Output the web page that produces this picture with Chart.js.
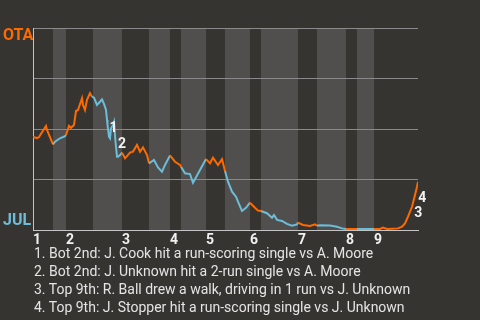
<!DOCTYPE html>
<html>
<head>
<meta charset="utf-8">
<script src="https://cdn.jsdelivr.net/npm/chart.js@4/dist/chart.umd.min.js"></script>
<style>
  html, body { margin: 0; padding: 0; background: #363431; }
  #wrap { position: relative; width: 480px; height: 320px; overflow: hidden; }
  #notes {
    position: absolute; left: 34px; top: 244px;
    font: 14px Roboto, sans-serif; line-height: 18px; color: #e4e4e4;
    white-space: nowrap;
  }
</style>
</head>
<body>
<div id="wrap">
  <canvas id="wp" width="480" height="320"></canvas>
  <div id="notes">
    <div>1. Bot 2nd: J. Cook hit a run-scoring single vs A. Moore</div>
    <div>2. Bot 2nd: J. Unknown hit a 2-run single vs A. Moore</div>
    <div>3. Top 9th: R. Ball drew a walk, driving in 1 run vs J. Unknown</div>
    <div>4. Top 9th: J. Stopper hit a run-scoring single vs J. Unknown</div>
  </div>
</div>
<script>
// game progress (event index) and OTA win chance
const eventX = [0, 4, 6, 13, 14, 20,
  22, 27, 32,
  33, 36, 38, 41, 43, 45, 49, 50, 52, 54, 57, 59,
  61, 64, 67, 69, 71, 73, 74, 74.5, 76, 77, 78, 80, 81, 82.5, 84, 85, 87,
  89, 92, 94, 97, 100, 104, 107, 110, 114, 116,
  121, 125, 129, 132, 137,
  142, 147, 148,
  152, 157, 160, 167, 173,
  177, 180, 185, 189, 192,
  195, 199, 203, 205, 209, 213, 217,
  222, 225, 228,
  234, 239, 241, 244, 249, 254, 259, 264, 265,
  270, 277, 282, 284,
  287, 297, 304, 309, 313,
  324, 341,
  347, 350, 354, 365, 369, 372, 375, 379, 382, 384, 385];
const winOTA = [46.0, 45.5, 46.0, 51.5, 49.5, 42.4,
  43.7, 45.4, 46.5,
  47.0, 51.6, 50.6, 52.0, 58.9, 59.4, 65.2, 61.9, 59.4, 64.4, 67.7, 66.0,
  65.5, 61.9, 63.5, 64.7, 62.4, 59.4, 54.5, 52.0, 46.2, 45.4, 50.3, 52.0, 53.5, 43.7, 36.3, 36.3, 37.1,
  38.3, 35.5, 36.6, 38.3, 38.8, 42.1, 38.8, 40.9, 37.1, 33.0,
  34.7, 31.0, 28.9, 32.2, 36.9,
  33.8, 32.2, 31.3,
  28.1, 27.7, 23.4, 29.7, 35.1,
  33.0, 35.8, 32.2, 35.1, 29.2,
  23.9, 19.0, 16.5, 14.0, 9.4, 11.0, 13.5,
  11.0, 9.6, 9.4,
  8.3, 6.1, 7.4, 5.0, 4.5, 3.0, 2.1, 2.8, 3.7,
  2.5, 2.0, 2.8, 2.1,
  2.3, 2.2, 1.6, 0.8, 0.5,
  0.5, 0.5,
  0.5, 1.2, 0.5, 0.8, 1.6, 3.3, 6.6, 11.5, 17.3, 21.4, 23.9];

// start of each half inning (top 1, bot 1, top 2 ...), game so far ends at gameEnd
const halfStarts = [0, 20, 33, 60, 89, 116, 137, 148, 173, 192, 217, 228, 265, 284, 313, 324, 341];
const gameEnd = 385;
const inningLabels = ["1", "2", "3", "4", "5", "6", "7", "8", "9"];

// numbered plays
const noteNums = ["1", "2", "3", "4"];
const noteX = [80.5, 89, 385.3, 389.3];
const noteY = [50.2, 42.1, 8.0, 15.8];

const OTA_COLOR = "#ff6a00";
const JUL_COLOR = "#6dbcd8";

function halfIndex(x) {
  let i = 0;
  while (i + 1 < halfStarts.length && halfStarts[i + 1] <= x) i++;
  return i;
}

const bandsPlugin = {
  id: "bands",
  beforeDraw(chart) {
    const { ctx, chartArea: a, scales: { x } } = chart;
    ctx.save();
    ctx.fillStyle = "#363431";
    ctx.fillRect(0, 0, chart.width, chart.height);
    ctx.fillStyle = "#504f4d";
    for (let i = 1; i < halfStarts.length; i += 2) {
      const end = i + 1 < halfStarts.length ? halfStarts[i + 1] : gameEnd;
      const x0 = x.getPixelForValue(halfStarts[i]);
      const x1 = x.getPixelForValue(end);
      ctx.fillRect(x0, a.top, x1 - x0, a.bottom - a.top);
    }
    ctx.restore();
  }
};

const textPlugin = {
  id: "texts",
  afterDatasetsDraw(chart) {
    const { ctx, chartArea: a, scales: { x, y } } = chart;
    ctx.save();
    ctx.font = "bold 16px Roboto";
    ctx.textAlign = "left";
    ctx.textBaseline = "alphabetic";
    ctx.fillStyle = OTA_COLOR;
    ctx.fillText("OTA", 3, a.top + 12);
    ctx.fillStyle = JUL_COLOR;
    ctx.fillText("JUL", 3, a.bottom - 5);

    ctx.font = "bold 14px Roboto";
    ctx.textAlign = "center";
    ctx.textBaseline = "middle";
    ctx.fillStyle = "#f2f2f2";
    noteNums.forEach((n, i) => {
      ctx.fillText(n, x.getPixelForValue(noteX[i]), y.getPixelForValue(noteY[i]));
    });
    ctx.restore();
  }
};

new Chart(document.getElementById("wp"), {
  type: "line",
  data: {
    datasets: [{
      data: eventX.map((v, i) => ({ x: v, y: winOTA[i] })),
      borderWidth: 2,
      pointRadius: 0,
      tension: 0,
      borderColor: OTA_COLOR,
      segment: {
        borderColor: c => halfIndex((c.p0.parsed.x + c.p1.parsed.x) / 2) % 2 === 0 ? OTA_COLOR : JUL_COLOR
      }
    }]
  },
  options: {
    responsive: false,
    animation: false,
    devicePixelRatio: 1,
    layout: { padding: { left: 33, top: 28, right: 62, bottom: 70 } },
    plugins: { legend: { display: false }, tooltip: { enabled: false } },
    scales: {
      x: {
        type: "linear",
        min: 0,
        max: gameEnd,
        grid: { display: false, drawTicks: false },
        border: { color: "#c4c4c4", width: 1 },
        afterBuildTicks: s => { s.ticks = halfStarts.filter((v, i) => i % 2 === 0).map(v => ({ value: v })); },
        afterFit: s => { s.height = 20; },
        ticks: {
          autoSkip: false,
          maxRotation: 0,
          align: "start",
          padding: 2,
          color: "#f0f0f0",
          font: { family: "Roboto", size: 14, weight: "bold" },
          callback: (v, i) => inningLabels[i]
        }
      },
      y: {
        min: 0,
        max: 100,
        afterFit: s => { s.width = 0; },
        grid: { color: "#8a8a8a", drawTicks: false },
        border: { color: "#c4c4c4", width: 1 },
        ticks: { display: false, stepSize: 25 }
      }
    }
  },
  plugins: [bandsPlugin, textPlugin]
});
</script>
</body>
</html>
